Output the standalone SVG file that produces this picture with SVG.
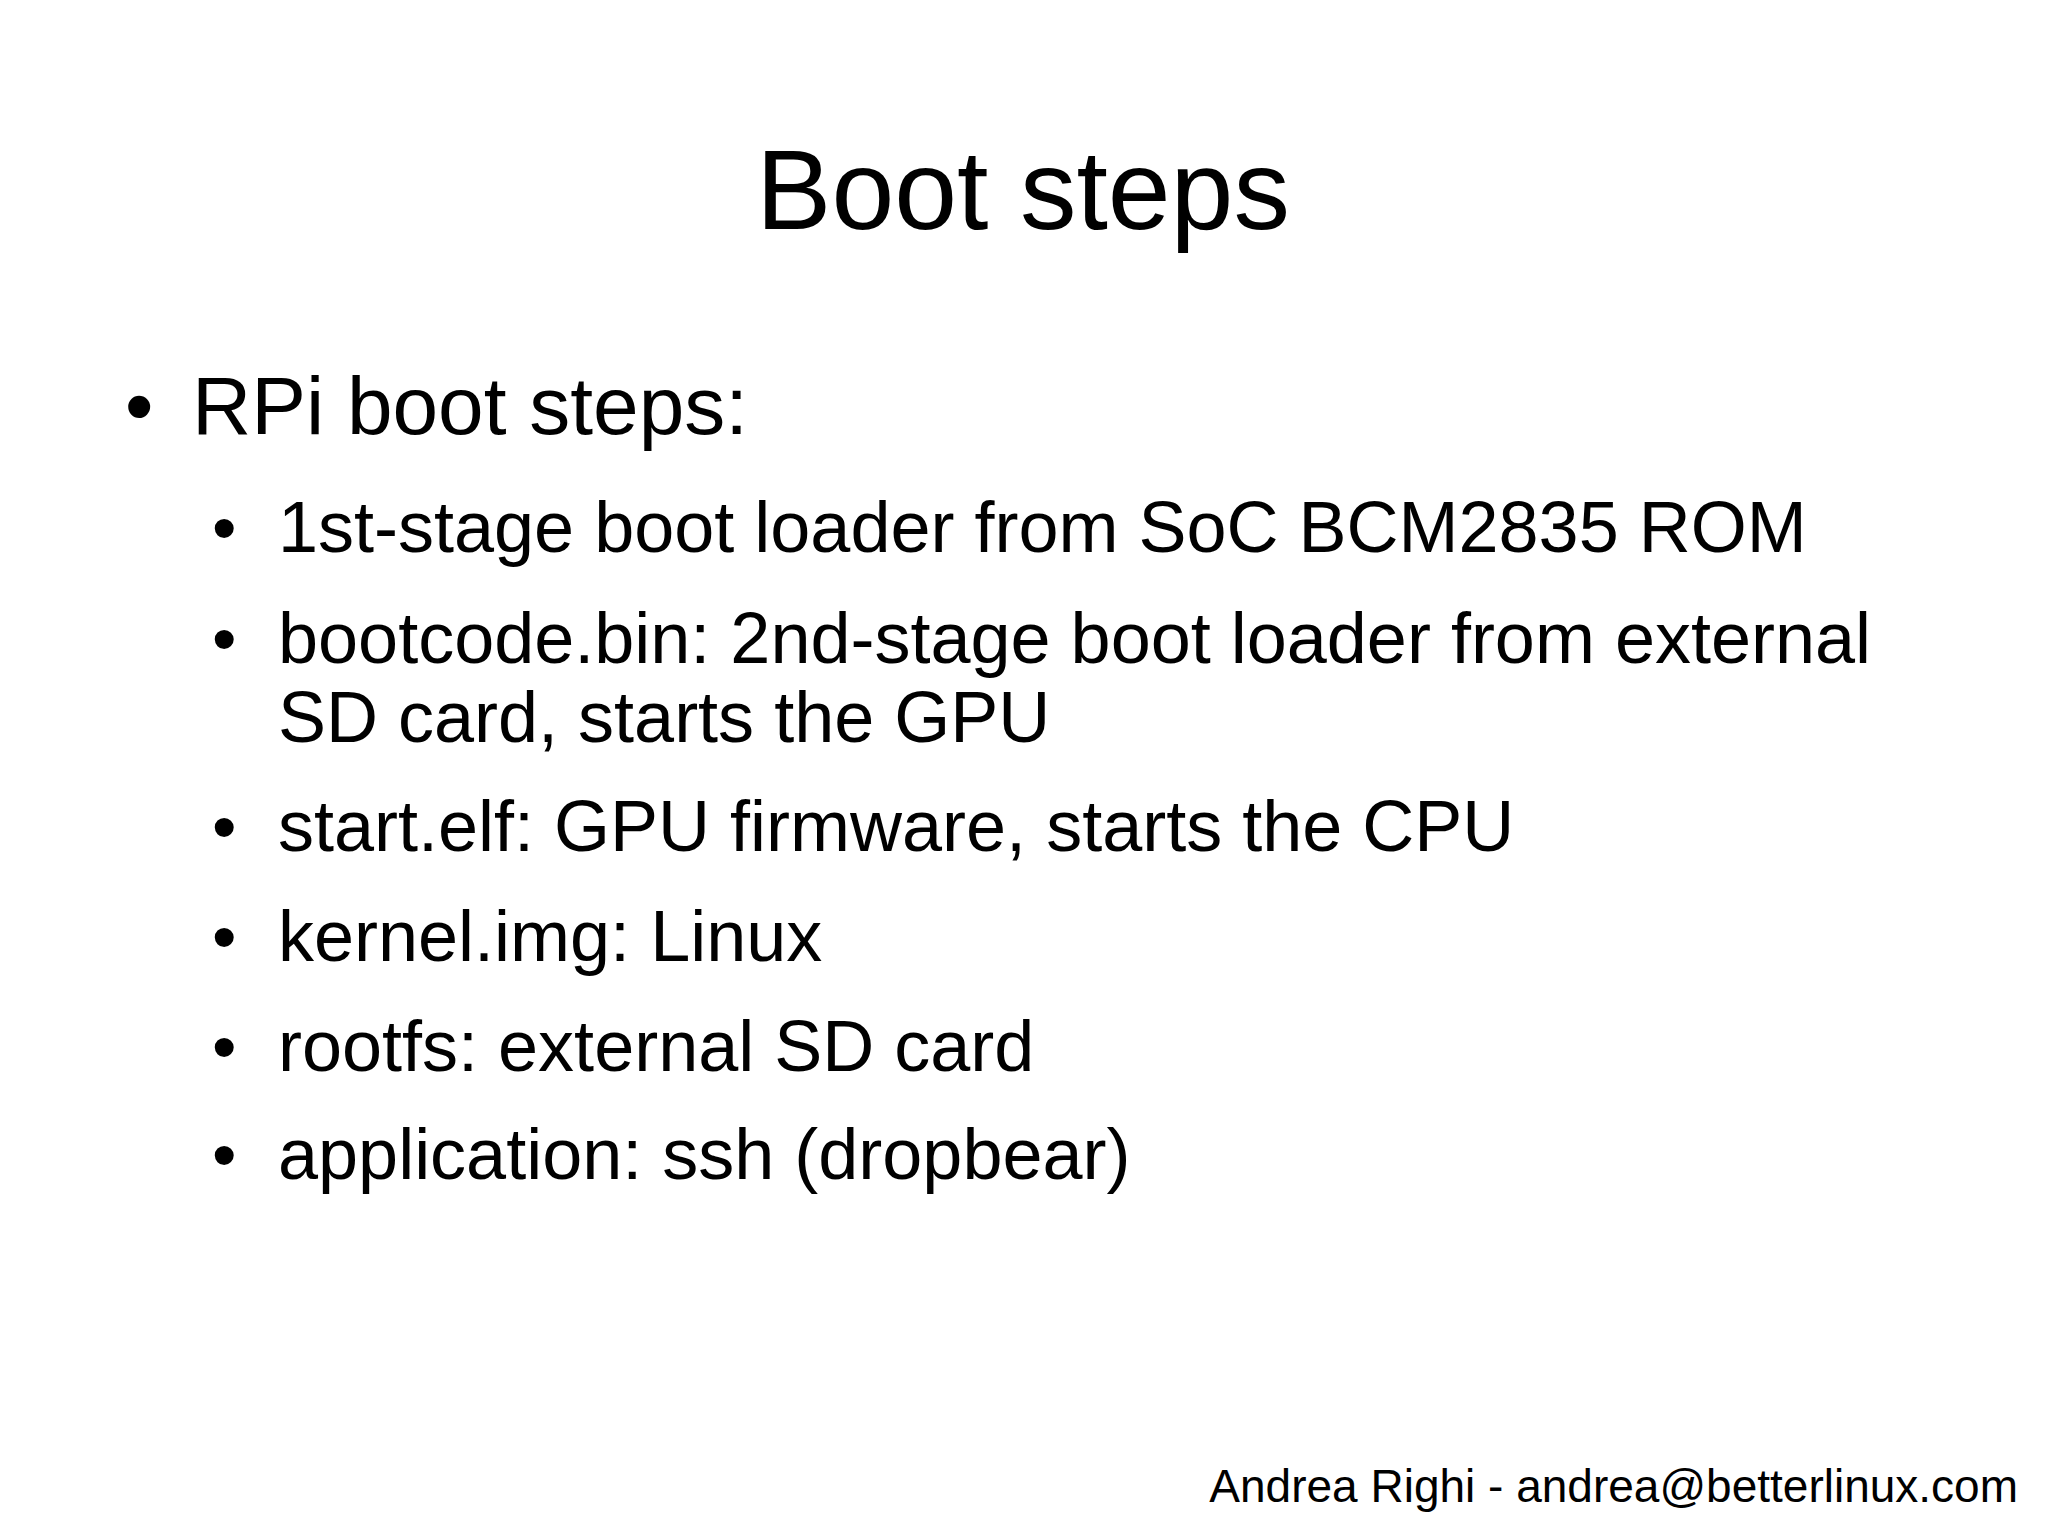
<svg xmlns="http://www.w3.org/2000/svg" width="2048" height="1535" viewBox="0 0 2048 1535">
<style>
text{font-family:"Liberation Sans",Arial,sans-serif;fill:#000}
.s{font-size:72px}
.d{font-size:70px}
</style>
<rect width="2048" height="1535" fill="#fff"/>
<g id="title"><text x="1023" y="229" font-size="113" text-anchor="middle">Boot steps</text></g>
<g id="main"><text x="125" y="434" font-size="81">•</text><text x="192" y="434" font-size="82">RPi boot steps:</text></g>
<g id="items">
<text class="d" x="212" y="552">•</text><text class="s" x="278" y="552">1st-stage boot loader from SoC BCM2835 ROM</text>
<text class="d" x="212" y="663">•</text><text class="s" x="278" y="663">bootcode.bin: 2nd-stage boot loader from external</text>
<text class="s" x="278" y="742">SD card, starts the GPU</text>
<text class="d" x="212" y="851">•</text><text class="s" x="278" y="851">start.elf: GPU firmware, starts the CPU</text>
<text class="d" x="212" y="961">•</text><text class="s" x="278" y="961">kernel.img: Linux</text>
<text class="d" x="212" y="1071">•</text><text class="s" x="278" y="1071">rootfs: external SD card</text>
<text class="d" x="212" y="1179">•</text><text class="s" x="278" y="1179">application: ssh (dropbear)</text>
</g>
<g id="footer"><text x="2018" y="1502" font-size="46" text-anchor="end">Andrea Righi - andrea@betterlinux.com</text></g>
</svg>
